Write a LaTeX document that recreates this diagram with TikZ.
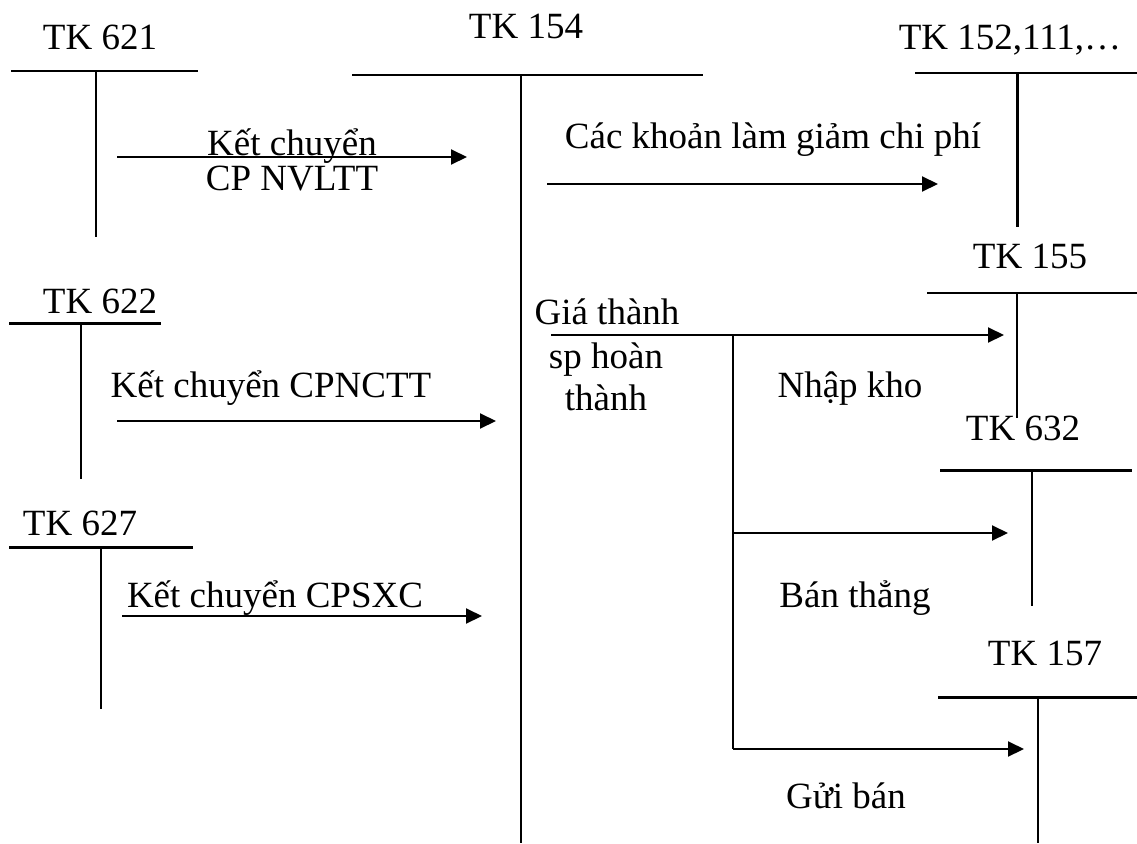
\documentclass[tikz,border=0pt]{standalone}
\usepackage{fontspec}
\setmainfont{Liberation Serif}
\usetikzlibrary{arrows.meta}
\begin{document}
\begin{tikzpicture}[x=1pt,y=-1pt,
  lbl/.style={font=\fontsize{37}{41}\selectfont, inner sep=0pt, anchor=base},
  tline/.style={line width=2pt},
  tbold/.style={line width=3pt},
  arr/.style={line width=2pt, -{Triangle[length=16pt,width=15pt]}}]
\useasboundingbox (0,0) rectangle (1137,843);
\fill[white] (0,0) rectangle (1137,843);

% ---- account titles
\node[lbl] (t621) at (100,50) {TK 621};
\node[lbl] (t154) at (526,38) {TK 154};
\node[lbl] (t152) at (1010,50) {TK 152,111,…};
\node[lbl] (t155) at (1030,268) {TK 155};
\node[lbl] (t622) at (100,313) {TK 622};
\node[lbl] (t632) at (1023,440) {TK 632};
\node[lbl] (t627) at (80,535) {TK 627};
\node[lbl] (t157) at (1045,665) {TK 157};

% ---- T-account lines
\coordinate (h621a) at (11,71);  \coordinate (h621b) at (198,71);
\coordinate (v621a) at (96,71);  \coordinate (v621b) at (96,237);
\draw[tline] (h621a) -- (h621b);
\draw[tline] (v621a) -- (v621b);

\coordinate (h154a) at (352,75); \coordinate (h154b) at (703,75);
\coordinate (v154a) at (521,75); \coordinate (v154b) at (521,843);
\draw[tline] (h154a) -- (h154b);
\draw[tline] (v154a) -- (v154b);

\coordinate (h152a) at (915,73); \coordinate (h152b) at (1137,73);
\coordinate (v152a) at (1017,73); \coordinate (v152b) at (1017,227);
\draw[tline] (h152a) -- (h152b);
\draw[tbold] (v152a) -- (v152b);

\coordinate (h155a) at (927,293); \coordinate (h155b) at (1137,293);
\coordinate (v155a) at (1017,293); \coordinate (v155b) at (1017,418);
\draw[tline] (h155a) -- (h155b);
\draw[tline] (v155a) -- (v155b);

\coordinate (h622a) at (9,323); \coordinate (h622b) at (161,323);
\coordinate (v622a) at (81,323); \coordinate (v622b) at (81,479);
\draw[tbold] (h622a) -- (h622b);
\draw[tline] (v622a) -- (v622b);

\coordinate (h627a) at (9,547); \coordinate (h627b) at (193,547);
\coordinate (v627a) at (101,547); \coordinate (v627b) at (101,709);
\draw[tbold] (h627a) -- (h627b);
\draw[tline] (v627a) -- (v627b);

\coordinate (h632a) at (940,470); \coordinate (h632b) at (1132,470);
\coordinate (v632a) at (1032,470); \coordinate (v632b) at (1032,606);
\draw[tbold] (h632a) -- (h632b);
\draw[tline] (v632a) -- (v632b);

\coordinate (h157a) at (938,697); \coordinate (h157b) at (1137,697);
\coordinate (v157a) at (1038,697); \coordinate (v157b) at (1038,843);
\draw[tbold] (h157a) -- (h157b);
\draw[tline] (v157a) -- (v157b);

% ---- arrows
\coordinate (a1s) at (117,157); \coordinate (a1e) at (467,157);
\draw[arr] (a1s) -- (a1e);
\coordinate (a2s) at (547,184); \coordinate (a2e) at (938,184);
\draw[arr] (a2s) -- (a2e);
\coordinate (a3s) at (117,421); \coordinate (a3e) at (496,421);
\draw[arr] (a3s) -- (a3e);
\coordinate (a4s) at (122,616); \coordinate (a4e) at (482,616);
\draw[arr] (a4s) -- (a4e);
\coordinate (a5s) at (551,335); \coordinate (a5e) at (1004,335);
\draw[arr] (a5s) -- (a5e);
\coordinate (br1) at (733,335); \coordinate (br2) at (733,533); \coordinate (br3) at (733,749);
\draw[tline] (br1) -- (br3);
\coordinate (a6e) at (1008,533);
\draw[arr] (br2) -- (a6e);
\coordinate (a7e) at (1024,749);
\draw[arr] (br3) -- (a7e);

% ---- arrow labels
\node[lbl] (l1a) at (292,155) {Kết chuyển};
\node[lbl] (l1b) at (292,190) {CP NVLTT};
\node[lbl] (l2) at (773,148) {Các khoản làm giảm chi phí};
\node[lbl] (l3) at (271,397) {Kết chuyển CPNCTT};
\node[lbl] (l4) at (275,607) {Kết chuyển CPSXC};
\node[lbl] (l5a) at (607,324) {Giá thành};
\node[lbl] (l5b) at (606,368) {sp hoàn};
\node[lbl] (l5c) at (606,410) {thành};
\node[lbl] (l6) at (850,397) {Nhập kho};
\node[lbl] (l7) at (855,607) {Bán thẳng};
\node[lbl] (l8) at (846,808) {Gửi bán};
\end{tikzpicture}
\end{document}
